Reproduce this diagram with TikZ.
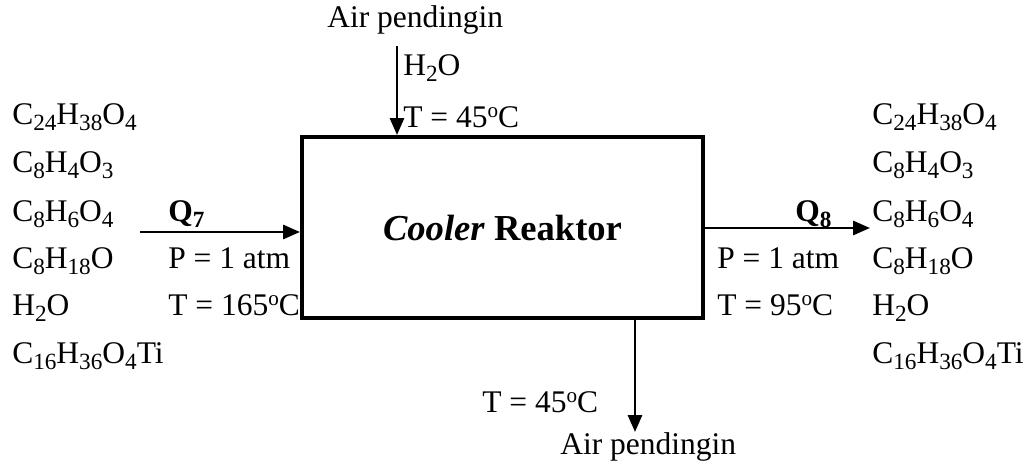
\documentclass[tikz,border=0pt]{standalone}
\usepackage{fontspec}
\setmainfont{Liberation Serif}
\usetikzlibrary{arrows.meta, positioning, calc}
\newcommand{\lo}[1]{\raisebox{-3.6pt}{\fontsize{16.5pt}{16.5pt}\selectfont #1}}
\newcommand{\degsup}{\raisebox{7.4pt}{\fontsize{15pt}{15pt}\selectfont o}}
\tikzset{
    % main unit box
    unit box/.style={
        rectangle,
        draw=black,
        line width=2.8pt,
        minimum width=10.025cm,
        minimum height=4.525cm,
        align=center,
        font=\fontsize{26pt}{30pt}\selectfont\bfseries
    },
    % plain text labels
    stream label/.style={
        anchor=base west,
        inner sep=0pt,
        font=\fontsize{22.4pt}{26pt}\selectfont
    },
    flow arrow/.style={
        -{Triangle[length=12pt, width=10pt]},
        line width=1.8pt,
        black
    }
}
\begin{document}
\begin{tikzpicture}[x=0.025cm, y=-0.025cm]
    \useasboundingbox (0,0) rectangle (1026,464);

    % Cooler
    \node[unit box] (reaktor) at (502.5, 227.5) {\textit{Cooler} Reaktor};

    % Stream end points
    \coordinate (q7in) at (140, 232);
    \coordinate (q8out) at (870, 228);
    \coordinate (cwin) at (397, 46);
    \coordinate (cwout) at (635, 432);

    % Arrows
    \draw[flow arrow] (q7in) -- (q7in -| reaktor.west);
    \draw[flow arrow] (reaktor.east |- q8out) -- (q8out);
    \draw[flow arrow] (cwin) -- (cwin |- reaktor.north);
    \draw[flow arrow] (cwout |- reaktor.south) -- (cwout);

    % Feed components
    \node[stream label] (fa) at (12, 125) {C\lo{24}H\lo{38}O\lo{4}};
    \node[stream label] (fb) at (12, 173) {C\lo{8}H\lo{4}O\lo{3}};
    \node[stream label] (fc) at (12, 222) {C\lo{8}H\lo{6}O\lo{4}};
    \node[stream label] (fd) at (12, 269) {C\lo{8}H\lo{18}O};
    \node[stream label] (fe) at (12, 316) {H\lo{2}O};
    \node[stream label] (ff) at (12, 364) {C\lo{16}H\lo{36}O\lo{4}Ti};

    % Product components
    \node[stream label] (pa) at (872, 125) {C\lo{24}H\lo{38}O\lo{4}};
    \node[stream label] (pb) at (872, 173) {C\lo{8}H\lo{4}O\lo{3}};
    \node[stream label] (pc) at (872, 222) {C\lo{8}H\lo{6}O\lo{4}};
    \node[stream label] (pd) at (872, 269) {C\lo{8}H\lo{18}O};
    \node[stream label] (pe) at (872, 316) {H\lo{2}O};
    \node[stream label] (pf) at (872, 364) {C\lo{16}H\lo{36}O\lo{4}Ti};

    % Stream 7 conditions
    \node[stream label] (q7) at (168, 222) {\textbf{Q\lo{\bfseries 7}}};
    \node[stream label] (p7) at (168, 269) {P = 1 atm};
    \node[stream label] (t7) at (168, 316) {T = 165\degsup C};

    % Stream 8 conditions
    \node[stream label] (q8) at (795, 222) {\textbf{Q\lo{\bfseries 8}}};
    \node[stream label] (p8) at (717, 269) {P = 1 atm};
    \node[stream label] (t8) at (717, 316) {T = 95\degsup C};

    % Cooling water in
    \node[stream label] (cwinname) at (327, 28) {Air pendingin};
    \node[stream label] (cwinh) at (403, 76) {H\lo{2}O};
    \node[stream label] (cwint) at (403, 128) {T = 45\degsup C};

    % Cooling water out
    \node[stream label] (cwoutt) at (482, 413) {T = 45\degsup C};
    \node[stream label] (cwoutname) at (560, 455) {Air pendingin};
\end{tikzpicture}
\end{document}
